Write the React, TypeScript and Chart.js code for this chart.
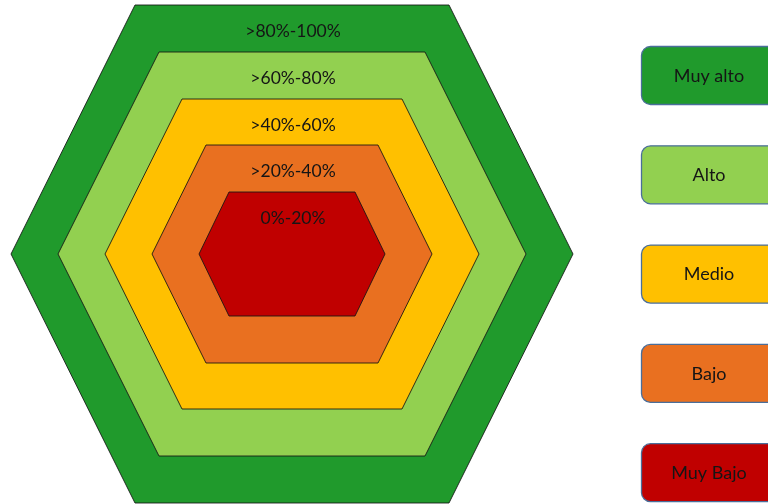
import React, { useEffect, useRef } from 'react';
import { Chart, registerables } from 'chart.js';

Chart.register(...registerables);

// Bands from innermost to outermost
const bandLabels = ['0%-20%', '>20%-40%', '>40%-60%', '>60%-80%', '>80%-100%'];
const levelNames = ['Muy Bajo', 'Bajo', 'Medio', 'Alto', 'Muy alto'];
const bandColors = ['#C00000', '#E97020', '#FFC000', '#92D050', '#209A2C'];

const centerX = 292;
const centerY = 254;
const halfHeights = [62, 109, 155, 202, 249];
const topHalfWidths = [63, 86, 110, 133, 157];
const vertexHalfWidths = [93, 140, 187, 234, 281];

const FONT = 'Lato, "Open Sans", sans-serif';

function hexPoints(i: number) {
  const h = halfHeights[i];
  const a = topHalfWidths[i];
  const w = vertexHalfWidths[i];
  return [
    { x: centerX - a, y: centerY - h },
    { x: centerX + a, y: centerY - h },
    { x: centerX + w, y: centerY },
    { x: centerX + a, y: centerY + h },
    { x: centerX - a, y: centerY + h },
    { x: centerX - w, y: centerY },
    { x: centerX - a, y: centerY - h },
  ];
}

const labelPlugin = {
  id: 'bandLabels',
  afterDatasetsDraw(chart: any) {
    const ctx = chart.ctx;
    const xs = chart.scales.x;
    const ys = chart.scales.y;
    ctx.save();
    ctx.fillStyle = '#151515';
    ctx.font = `17.5px ${FONT}`;
    ctx.textAlign = 'center';
    ctx.textBaseline = 'middle';
    bandLabels.forEach((lbl, i) => {
      const px = xs.getPixelForValue(centerX) + 1;
      const py = ys.getPixelForValue(centerY - halfHeights[i]) + 26;
      ctx.fillText(lbl, px, py);
    });
    ctx.restore();
  },
};

const legendPlugin = {
  id: 'levelLegend',
  afterDraw(chart: any) {
    const ctx = chart.ctx;
    const boxX = 641;
    const boxW = 136;
    const boxH = 58;
    const top0 = 46;
    const step = 99.3;
    ctx.save();
    ctx.font = `18px ${FONT}`;
    ctx.textAlign = 'center';
    ctx.textBaseline = 'middle';
    for (let k = 0; k < levelNames.length; k++) {
      const idx = levelNames.length - 1 - k;
      const y = top0 + k * step;
      ctx.beginPath();
      ctx.roundRect(boxX + 0.5, y + 0.5, boxW, boxH, 9);
      ctx.fillStyle = bandColors[idx];
      ctx.fill();
      ctx.lineWidth = 1.3;
      ctx.strokeStyle = '#4A6E9A';
      ctx.stroke();
      ctx.fillStyle = '#151515';
      ctx.fillText(levelNames[idx], boxX + 68, y + boxH / 2 + 1);
    }
    ctx.restore();
  },
};

export default function App() {
  const ref = useRef<HTMLCanvasElement>(null);
  useEffect(() => {
    if (!ref.current) return;
    const datasets = bandLabels.map((lbl, i) => ({
      label: lbl,
      data: hexPoints(i),
      showLine: true,
      fill: 'shape',
      backgroundColor: bandColors[i],
      borderColor: 'rgba(20,20,20,0.85)',
      borderWidth: 1,
      pointRadius: 0,
      pointHoverRadius: 0,
      tension: 0,
      order: i,
    }));
    const chart = new Chart(ref.current, {
      type: 'scatter',
      data: { datasets: datasets as any },
      options: {
        animation: false,
        responsive: false,
        events: [],
        layout: { padding: 0, autoPadding: false } as any,
        plugins: {
          legend: { display: false },
          tooltip: { enabled: false },
          title: { display: false },
        },
        scales: {
          x: { type: 'linear', display: false, min: 0, max: 768 },
          y: { type: 'linear', display: false, min: 0, max: 504, reverse: true },
        },
      },
      plugins: [labelPlugin, legendPlugin],
    });
    return () => chart.destroy();
  }, []);
  return (
    <div style={{ position: 'fixed', left: 0, top: 0, width: 768, height: 504, background: '#fff' }}>
      <canvas ref={ref} width={768} height={504} style={{ display: 'block' }} />
    </div>
  );
}
